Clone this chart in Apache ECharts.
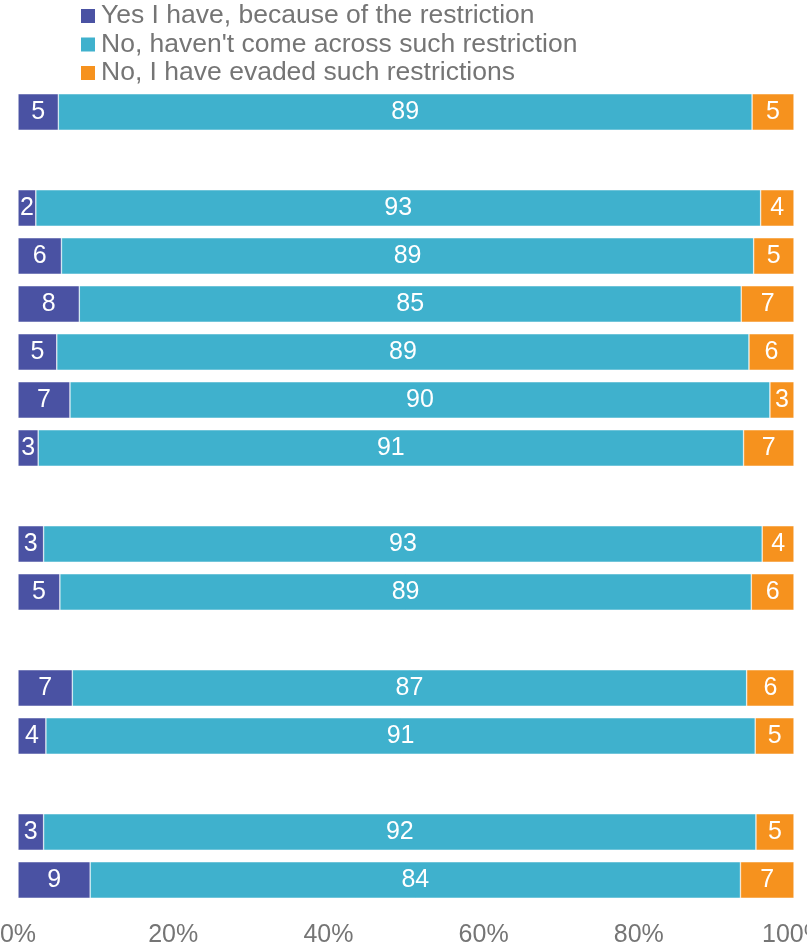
<!DOCTYPE html>
<html>
<head>
<meta charset="utf-8">
<script src="https://cdn.jsdelivr.net/npm/echarts@6/dist/echarts.min.js"></script>
<style>
  html, body { margin: 0; padding: 0; background: #fff; }
  #chart { width: 807px; height: 948px; }
</style>
</head>
<body>
<div id="chart"></div>
<script>
// rows top to bottom, the gap slots are the empty rows between groups
var categories = ['r1', 'gap1', 'r2', 'r3', 'r4', 'r5', 'r6', 'r7', 'gap2', 'r8', 'r9', 'gap3', 'r10', 'r11', 'gap4', 'r12', 'r13'];

var seriesNames = [
    'Yes I have, because of the restriction',
    "No, haven't come across such restriction",
    'No, I have evaded such restrictions'
];

// percentages (labels show them rounded)
var yesHave   = [5.2, null, 2.3, 5.6, 7.9, 5.0, 6.7, 2.6, null, 3.3, 5.4, null, 7.0, 3.6, null, 3.3, 9.3];
var notSeen   = [89.4, null, 93.4, 89.2, 85.3, 89.2, 90.2, 90.9, null, 92.6, 89.1, null, 86.9, 91.4, null, 91.8, 83.8];
var evaded    = [5.4, null, 4.3, 5.2, 6.8, 5.8, 3.1, 6.5, null, 4.1, 5.5, null, 6.1, 5.0, null, 4.9, 6.9];

var colors = ['#4A52A3', '#3FB1CD', '#F6921E'];
var xTicks = [0, 20, 40, 60, 80, 100];

var chart = echarts.init(document.getElementById('chart'), null, { renderer: 'canvas' });

function makeSeries(name, data, color) {
    return {
        name: name,
        type: 'bar',
        stack: 'all',
        data: data,
        barCategoryGap: '24%',
        itemStyle: {
            color: color,
            borderColor: '#ffffff',
            borderWidth: 0.5
        },
        label: {
            show: true,
            position: 'inside',
            color: '#ffffff',
            fontSize: 25,
            fontFamily: 'Liberation Sans, Arial, sans-serif',
            formatter: function (p) {
                return p.value == null ? '' : Math.round(p.value);
            }
        },
        animation: false
    };
}

chart.setOption({
    animation: false,
    color: colors,
    legend: {
        orient: 'vertical',
        left: 81,
        top: 2,
        padding: 0,
        itemWidth: 14,
        itemHeight: 14,
        itemGap: 0.5,
        icon: 'rect',
        itemStyle: { borderWidth: 0 },
        data: seriesNames,
        textStyle: {
            color: '#757575',
            fontSize: 26.5,
            lineHeight: 28,
            fontFamily: 'Liberation Sans, Arial, sans-serif',
            padding: [0, 0, 0, 1]
        }
    },
    grid: {
        left: 18,
        right: 13,
        top: 88,
        bottom: 44,
        containLabel: false,
        outerBoundsMode: 'none'
    },
    xAxis: {
        type: 'value',
        min: xTicks[0],
        max: xTicks[xTicks.length - 1],
        interval: 20,
        axisLine: { show: false },
        axisTick: { show: false },
        splitLine: { show: false },
        axisLabel: {
            color: '#757575',
            fontSize: 25,
            margin: 19,
            fontFamily: 'Liberation Sans, Arial, sans-serif',
            formatter: '{value}%'
        }
    },
    yAxis: {
        type: 'category',
        inverse: true,
        data: categories,
        axisLine: { show: false },
        axisTick: { show: false },
        axisLabel: { show: false },
        splitLine: { show: false }
    },
    series: [
        makeSeries(seriesNames[0], yesHave, colors[0]),
        makeSeries(seriesNames[1], notSeen, colors[1]),
        makeSeries(seriesNames[2], evaded, colors[2])
    ]
});
</script>
</body>
</html>
